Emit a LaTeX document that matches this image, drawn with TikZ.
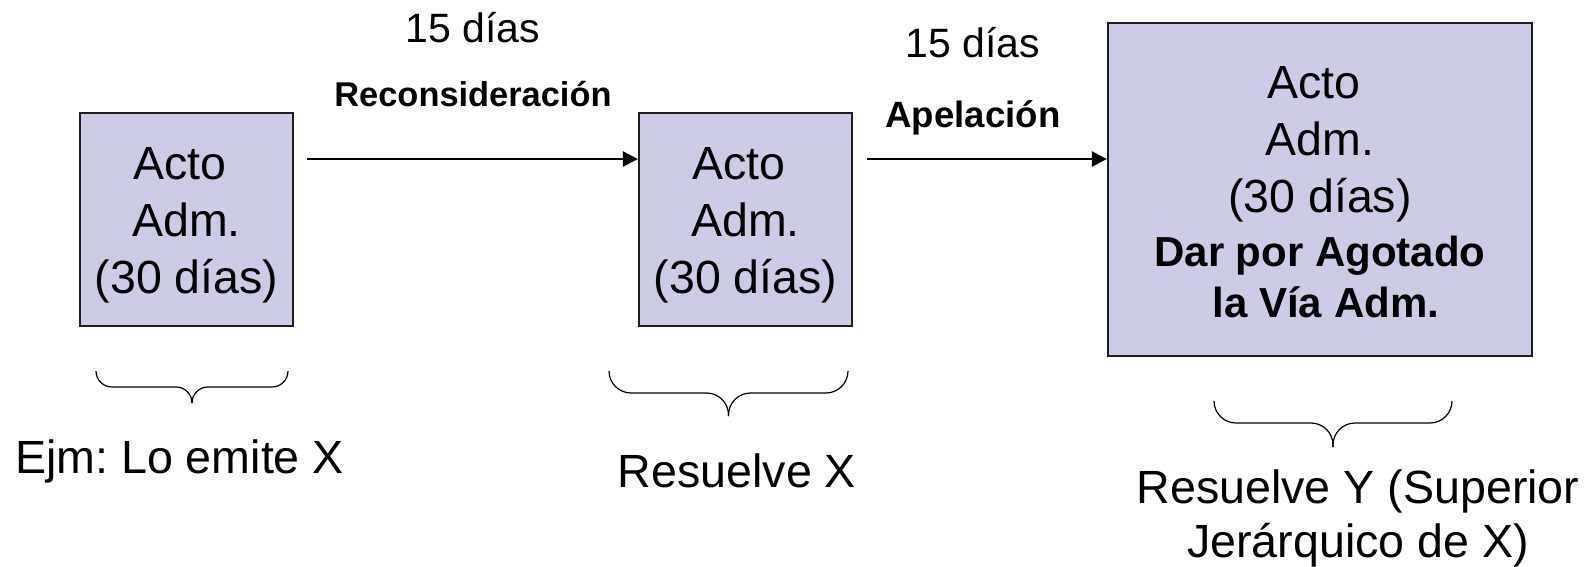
\documentclass[tikz,border=0pt]{standalone}
\usepackage{fontspec}
\setmainfont{Liberation Sans}
\usetikzlibrary{arrows.meta}
\frenchspacing
\definecolor{boxfill}{RGB}{204,204,230}
\definecolor{boxline}{RGB}{30,30,30}
% curly brace opening downwards: x1 x2 ytop ymid ytip radius
\newcommand\Llave[6]{%
  \draw[brc, rounded corners=#6] (#1,#3) -- (#1,#4) -- ({(#1+#2)/2},#4) -- ({(#1+#2)/2},#5);
  \draw[brc, rounded corners=#6] (#2,#3) -- (#2,#4) -- ({(#1+#2)/2},#4) -- ({(#1+#2)/2},#5);}
\begin{document}
\begin{tikzpicture}[x=0.5pt,y=-0.5pt,
  box/.style={draw=boxline, fill=boxfill, line width=1.1pt, rectangle, inner sep=0pt},
  boxtxt/.style={align=center, inner sep=0pt, font=\fontsize{23.25}{28.5}\selectfont},
  boldtxt/.style={align=center, inner sep=0pt, font=\fontsize{21}{25.5}\selectfont\bfseries},
  daytxt/.style={inner sep=0pt, anchor=base, font=\fontsize{20.5}{24}\selectfont},
  proctxt/.style={inner sep=0pt, anchor=base, font=\fontsize{#1}{20}\selectfont\bfseries},
  bottxt/.style={inner sep=0pt, align=center, font=\fontsize{23.3}{27}\selectfont},
  arr/.style={line width=1.25pt, -{Triangle[length=7.5pt,width=7.5pt]}},
  brc/.style={line width=0.6pt}]
\useasboundingbox (0,0) rectangle (1592,567);

% boxes
\node[box, minimum width=106.5pt, minimum height=106.5pt] (b1) at (186.5,219.5) {};
\node[box, minimum width=106.5pt, minimum height=106.5pt] (b2) at (745.5,219.5) {};
\node[box, minimum width=212pt, minimum height=166.5pt] (b3) at (1320,189.5) {};

% box texts
\node[boxtxt] (b1t) at (186.5,225.5) {Acto\hspace*{.278em}\\Adm.\\(30 días)};
\node[boxtxt] (b2t) at (745.5,225.5) {Acto\hspace*{.278em}\\Adm.\\(30 días)};
\node[boxtxt] (b3t) at (1320,144.5) {Acto\hspace*{.278em}\\Adm.\\(30 días)};
\node[boldtxt] (b3b) at (1320,276.5) {Dar por Agotado\\\hspace*{.278em}la Vía Adm.};

% arrows
\coordinate (a1s) at (307,159);
\coordinate (a2s) at (867,159);
\draw[arr] (a1s) -- (a1s -| b2.west);
\draw[arr] (a2s) -- (a2s -| b3.west);

% arrow labels
\node[daytxt] (d1) at (473,43) {15 días};
\node[proctxt=17.2] (r1) at (473,107) {Reconsideración};
\node[daytxt] (d2) at (973,58) {15 días};
\node[proctxt=18.3] (r2) at (973,128) {Apelación};

% braces
\Llave{96}{288}{371}{387}{403}{8pt}
\Llave{609}{848}{371}{393}{416}{11pt}
\Llave{1214}{1452}{401}{423}{447}{11pt}

% bottom texts
\node[bottxt, anchor=base] (e1) at (179.5,473) {Ejm: Lo emite X};
\node[bottxt, anchor=base] (e2) at (737,487) {Resuelve X};
\node[bottxt] (e3) at (1358,518.5) {Resuelve Y (Superior\\Jerárquico de X)};
\end{tikzpicture}
\end{document}
